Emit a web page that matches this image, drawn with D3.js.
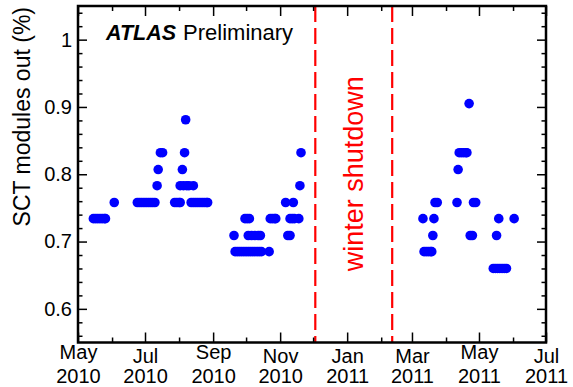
<!DOCTYPE html>
<html>
<head>
<meta charset="utf-8">
<script src="https://cdn.jsdelivr.net/npm/d3@7"></script>
<style>
  html, body { margin: 0; padding: 0; background: #fff; }
  svg { display: block; font-family: "Liberation Sans", Arial, Helvetica, sans-serif; }
</style>
</head>
<body>
<svg id="chart"></svg>
<script>
// fraction of SCT modules out (%), grouped by level
const levels = [0.660, 0.685, 0.709, 0.734, 0.758, 0.783, 0.807, 0.832, 0.881, 0.905];
const datesAtLevel = [
  ["2011-05-14", "2011-05-16", "2011-05-18", "2011-05-20", "2011-05-22", "2011-05-24", "2011-05-26"],
  ["2010-09-21", "2010-09-23", "2010-09-25", "2010-09-27", "2010-09-29", "2010-10-01", "2010-10-03",
   "2010-10-05", "2010-10-07", "2010-10-09", "2010-10-11", "2010-10-13", "2010-10-15", "2010-10-22",
   "2011-03-12", "2011-03-14", "2011-03-16", "2011-03-18", "2011-03-19"],
  ["2010-09-20", "2010-10-03", "2010-10-06", "2010-10-09", "2010-10-12", "2010-10-14", "2010-11-08",
   "2010-11-10", "2011-03-20", "2011-04-23", "2011-04-25", "2011-05-17"],
  ["2010-05-15", "2010-05-17", "2010-05-19", "2010-05-21", "2010-05-23", "2010-05-25", "2010-05-26",
   "2010-09-30", "2010-10-02", "2010-10-04", "2010-10-23", "2010-10-25", "2010-10-27", "2010-10-28",
   "2010-11-10", "2010-11-12", "2010-11-14", "2010-11-18", "2011-03-11", "2011-03-21", "2011-05-19",
   "2011-06-02"],
  ["2010-06-03", "2010-06-24", "2010-06-26", "2010-06-28", "2010-06-30", "2010-07-02", "2010-07-04",
   "2010-07-06", "2010-07-08", "2010-07-10", "2010-07-28", "2010-07-30", "2010-08-01", "2010-08-02",
   "2010-08-12", "2010-08-14", "2010-08-16", "2010-08-18", "2010-08-20", "2010-08-22", "2010-08-24",
   "2010-08-26", "2010-08-27", "2010-11-06", "2010-11-13", "2011-03-22", "2011-03-24", "2011-04-11",
   "2011-04-26", "2011-04-28"],
  ["2010-07-12", "2010-08-02", "2010-08-05", "2010-08-08", "2010-08-10", "2010-08-14", "2010-11-19"],
  ["2010-07-13", "2010-08-04", "2011-04-12"],
  ["2010-07-15", "2010-07-17", "2010-08-06", "2010-11-20", "2011-04-13", "2011-04-15", "2011-04-17",
   "2011-04-19", "2011-04-20"],
  ["2010-08-07"],
  ["2011-04-22"],
];
const shutdownDates = ["2010-12-03", "2011-02-11"];
const xDomain = ["2010-05-01", "2011-07-01"];
const yDomain = [0.55, 1.05];
const yMajorTicks = [0.6, 0.7, 0.8, 0.9, 1];

const width = 573, height = 387;
const margin = { top: 6, right: 27, bottom: 44.5, left: 78 };
const innerW = width - margin.left - margin.right;
const innerH = height - margin.top - margin.bottom;
const fontFamily = '"Liberation Sans", Arial, Helvetica, sans-serif';

const parse = d3.utcParse("%Y-%m-%d");
const points = levels.flatMap((v, i) => datesAtLevel[i].map((d) => ({ date: parse(d), value: v })));

const svg = d3.select("#chart").attr("width", width).attr("height", height);
svg.append("rect").attr("width", width).attr("height", height).attr("fill", "#fff");

const chart = svg.append("g").attr("transform", `translate(${margin.left},${margin.top})`);

const xScale = d3.scaleUtc().domain(xDomain.map(parse)).range([0, innerW]);
const yScale = d3.scaleLinear().domain(yDomain).range([innerH, 0]);

// markers
chart.append("g")
  .selectAll("circle")
  .data(points)
  .join("circle")
  .attr("cx", (d) => xScale(d.date))
  .attr("cy", (d) => yScale(d.value))
  .attr("r", 4.8)
  .attr("fill", "#0000ff");

// winter shutdown markers
chart.append("g")
  .selectAll("line")
  .data(shutdownDates.map(parse))
  .join("line")
  .attr("x1", (d) => xScale(d))
  .attr("x2", (d) => xScale(d))
  .attr("y1", 0)
  .attr("y2", innerH)
  .attr("stroke", "#ff0000")
  .attr("stroke-width", 2.2)
  .attr("stroke-dasharray", "16,6");

const midShutdown = new Date((parse(shutdownDates[0]).getTime() + parse(shutdownDates[1]).getTime()) / 2);
chart.append("text")
  .attr("transform", `translate(${xScale(midShutdown) + 9},${yScale(0.8) - 0.5}) rotate(-90)`)
  .attr("text-anchor", "middle")
  .attr("font-size", 27)
  .attr("fill", "#ff0000")
  .text("winter shutdown");

// axes: ticks point inward on all four sides
const monthTicks = xScale.ticks(d3.utcMonth.every(1));
const majorMonths = xScale.ticks(d3.utcMonth.every(2));
const minorMonths = monthTicks.filter((d) => d.getUTCMonth() % 2 === 1);
const yMinor = yScale.ticks(25).filter((t) => !yMajorTicks.some((m) => Math.abs(m - t) < 1e-6));

function styleAxis(g) {
  g.attr("font-size", 20).attr("font-family", fontFamily);
  g.select(".domain").remove();
  g.selectAll(".tick line").attr("stroke", "#000").attr("stroke-width", 1.5);
  g.selectAll(".tick text").attr("fill", "#000");
}

const xBottom = chart.append("g")
  .attr("transform", `translate(0,${innerH})`)
  .call(d3.axisBottom(xScale).tickValues(majorMonths).tickSize(-10).tickPadding(6))
  .call(styleAxis);

const monthFmt = d3.utcFormat("%b");
const yearFmt = d3.utcFormat("%Y");
xBottom.selectAll(".tick text").each(function (d) {
  const t = d3.select(this).text(null).attr("dy", null).attr("y", 0);
  const m = monthFmt(d);
  t.append("tspan").attr("x", 0).attr("y", /[ypgjq]/.test(m) ? 16.5 : 20.5).text(m);
  t.append("tspan").attr("x", 0).attr("y", 40.5).text(yearFmt(d));
});

chart.append("g")
  .attr("transform", `translate(0,${innerH})`)
  .call(d3.axisBottom(xScale).tickValues(minorMonths).tickSize(-5).tickFormat(""))
  .call(styleAxis);

chart.append("g")
  .call(d3.axisTop(xScale).tickValues(majorMonths).tickSize(-10).tickFormat(""))
  .call(styleAxis);
chart.append("g")
  .call(d3.axisTop(xScale).tickValues(minorMonths).tickSize(-5).tickFormat(""))
  .call(styleAxis);

chart.append("g")
  .call(d3.axisLeft(yScale).tickValues(yMajorTicks).tickSize(-9).tickPadding(6).tickFormat(d3.format("~g")))
  .call(styleAxis);
chart.append("g")
  .call(d3.axisLeft(yScale).tickValues(yMinor).tickSize(-4.5).tickFormat(""))
  .call(styleAxis);

chart.append("g")
  .attr("transform", `translate(${innerW},0)`)
  .call(d3.axisRight(yScale).tickValues(yMajorTicks).tickSize(-9).tickFormat(""))
  .call(styleAxis);
chart.append("g")
  .attr("transform", `translate(${innerW},0)`)
  .call(d3.axisRight(yScale).tickValues(yMinor).tickSize(-4.5).tickFormat(""))
  .call(styleAxis);

// frame
chart.append("rect")
  .attr("width", innerW)
  .attr("height", innerH)
  .attr("fill", "none")
  .attr("stroke", "#000")
  .attr("stroke-width", 2.5);

// y-axis title, aligned to the top of the frame
svg.append("text")
  .attr("transform", "translate(30,7) rotate(-90)")
  .attr("text-anchor", "end")
  .attr("font-size", 23)
  .attr("fill", "#000")
  .text("SCT modules out (%)");

// experiment label
const label = svg.append("text")
  .attr("x", 106)
  .attr("y", 39.5)
  .attr("font-size", 21.5)
  .attr("fill", "#000");
label.append("tspan").attr("font-weight", "bold").attr("font-style", "italic").text("ATLAS");
label.append("tspan").attr("dx", 7).attr("font-size", 22).text("Preliminary");
</script>
</body>
</html>
